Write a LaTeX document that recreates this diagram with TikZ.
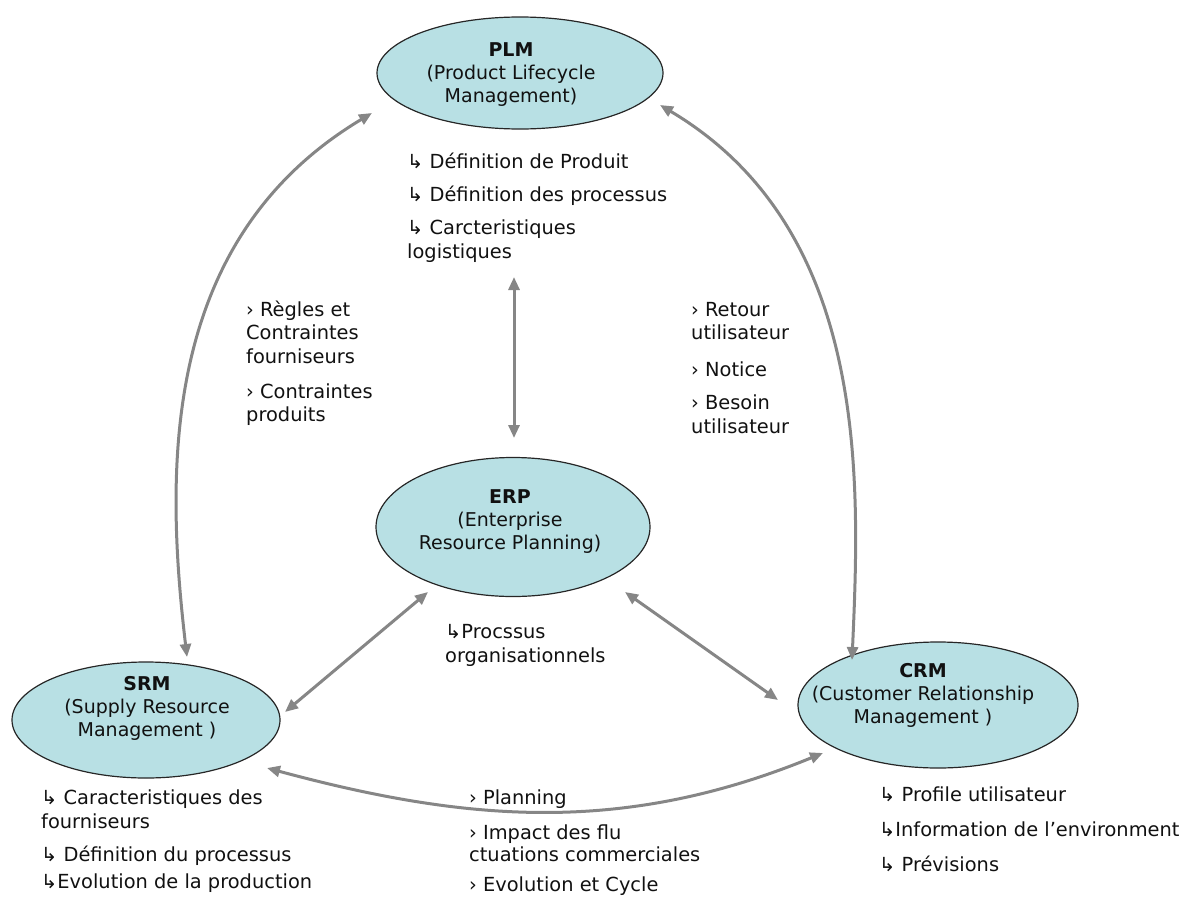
\documentclass[tikz,border=0pt]{standalone}
\usepackage{fontspec}
\setmainfont{DejaVu Sans}
\usetikzlibrary{arrows.meta,shapes.geometric}
\definecolor{ellfill}{HTML}{B8E0E4}
\definecolor{arrowgray}{HTML}{868686}
\definecolor{inkcol}{HTML}{111111}
\begin{document}
\begin{tikzpicture}[x=1pt,y=-1pt,
  ell/.style={ellipse, draw=black!85, line width=1.2pt, fill=ellfill, inner sep=0pt},
  lbl/.style={font=\fontsize{19}{23}\selectfont, align=center, inner sep=0pt, text=inkcol},
  txt/.style={font=\fontsize{19.4}{23}\selectfont, anchor=base west, inner sep=0pt, text=inkcol},
  conn/.style={draw=arrowgray, line width=3pt, {Triangle[length=13pt,width=11pt]}-{Triangle[length=13pt,width=11pt]}},
]
\useasboundingbox (0,0) rectangle (1188,899);

% ellipses
\node[ell, minimum width=286pt, minimum height=112pt] (plm) at (520,73) {};
\node[ell, minimum width=274pt, minimum height=139pt] (erp) at (513,527) {};
\node[ell, minimum width=268pt, minimum height=116pt] (srm) at (146,720) {};
\node[ell, minimum width=280pt, minimum height=126pt] (crm) at (938,705) {};

\node[lbl] (plmt) at (511,75) {\textbf{PLM}\\(Product Lifecycle\\Management)};
\node[lbl] (erpt) at (510,522) {\textbf{ERP}\\(Enterprise\\Resource Planning)};
\node[lbl] (srmt) at (147,708) {\textbf{SRM}\\(Supply Resource\\Management )};
\node[lbl] (crmt) at (923,695) {\textbf{CRM}\\(Customer Relationship\\Management )};

% connector ends
\coordinate (pe1) at (514,277);
\coordinate (pe2) at (514,438);
\coordinate (es1) at (428,592);
\coordinate (es2) at (285,712);
\coordinate (ec1) at (625,592);
\coordinate (ec2) at (778,700);
\coordinate (sc1) at (267,768);
\coordinate (sc2) at (823,753);
\coordinate (ps1) at (372,113);
\coordinate (ps2) at (187,657);
\coordinate (pc1) at (660,105);
\coordinate (pc2) at (852,660);

\draw[conn] (pe1) -- (pe2);
\draw[conn] (es1) -- (es2);
\draw[conn] (ec1) -- (ec2);
\draw[conn] (sc1) .. controls (467,822) and (623,835) .. (sc2);
\draw[conn] (ps1) .. controls (160,240) and (165,470) .. (ps2);
\draw[conn] (pc1) .. controls (870,230) and (860,480) .. (pc2);

% PLM texts
\node[txt] (t1) at (407,168) {↳ Définition de Produit};
\node[txt] (t2) at (407,201) {↳ Définition des processus};
\node[txt] (t3) at (407,234) {↳ Carcteristiques};
\node[txt] (t4) at (407,258) {logistiques};

% SRM-PLM texts
\node[txt] (r1) at (246,316) {› Règles et};
\node[txt] (r2) at (246,339) {Contraintes};
\node[txt] (r3) at (246,363) {fourniseurs};
\node[txt] (r4) at (246,398) {› Contraintes};
\node[txt] (r5) at (246,421) {produits};

% CRM-PLM texts
\node[txt] (u1) at (691,316) {› Retour};
\node[txt] (u2) at (691,339) {utilisateur};
\node[txt] (u3) at (691,376) {› Notice};
\node[txt] (u4) at (691,409) {› Besoin};
\node[txt] (u5) at (691,433) {utilisateur};

% ERP text
\node[txt] (o1) at (445,638) {↳Procssus};
\node[txt] (o2) at (445,662) {organisationnels};

% SRM texts
\node[txt] (s1) at (41,804) {↳ Caracteristiques des};
\node[txt] (s2) at (41,828) {fourniseurs};
\node[txt] (s3) at (41,861) {↳ Définition du processus};
\node[txt] (s4) at (41,888) {↳Evolution de la production};

% SRM-CRM texts
\node[txt] (m1) at (469,804) {› Planning};
\node[txt] (m2) at (469,839) {› Impact des flu};
\node[txt] (m3) at (469,861) {ctuations commerciales};
\node[txt] (m4) at (469,891) {› Evolution et Cycle};

% CRM texts
\node[txt] (c1) at (879,801) {↳ Profile utilisateur};
\node[txt] (c2) at (879,836) {↳Information de l’environment};
\node[txt] (c3) at (879,871) {↳ Prévisions};
\end{tikzpicture}
\end{document}
